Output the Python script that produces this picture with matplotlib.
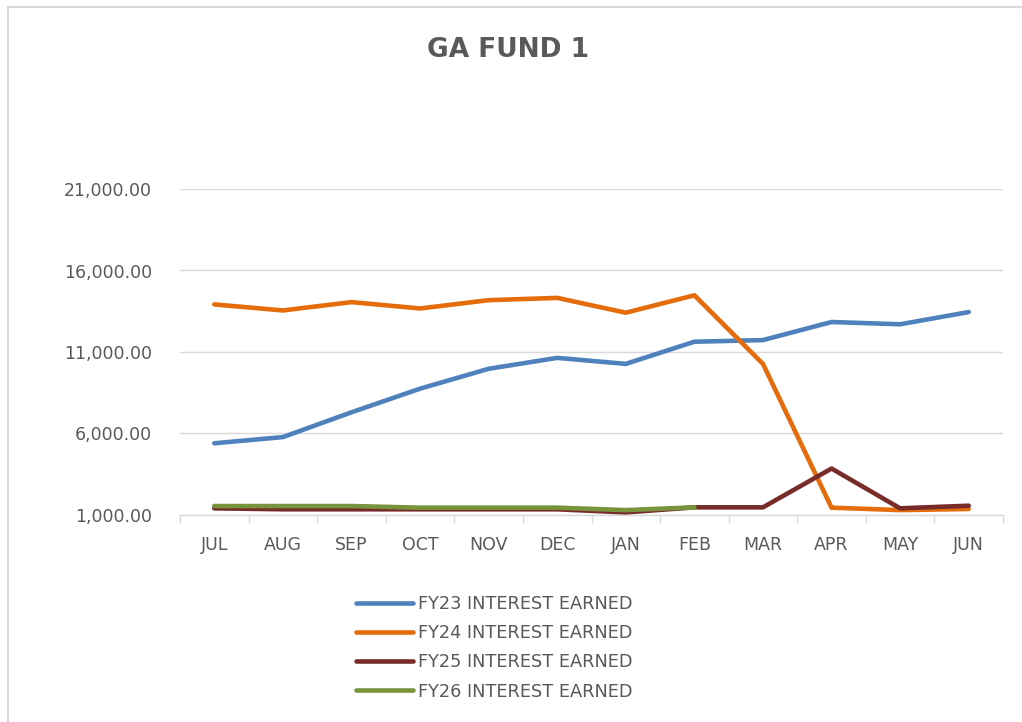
import matplotlib
matplotlib.use("Agg")
import matplotlib.pyplot as plt
from matplotlib.lines import Line2D

months = ["JUL", "AUG", "SEP", "OCT", "NOV", "DEC", "JAN", "FEB", "MAR", "APR", "MAY", "JUN"]

fy23 = [5400, 5780, 7300, 8750, 9970, 10640, 10270, 11630, 11730, 12840, 12700, 13450]
fy24 = [13920, 13550, 14060, 13670, 14180, 14320, 13410, 14480, 10270, 1450, 1300, 1370]
fy25 = [1410, 1350, 1350, 1350, 1350, 1350, 1160, 1470, 1470, 3850, 1410, 1570]
fy26 = [1550, 1550, 1550, 1450, 1450, 1450, 1300, 1470]  # stops at FEB

series = [
    ("FY23 INTEREST EARNED", fy23, "#4F81BD"),
    ("FY24 INTEREST EARNED", fy24, "#E46C0A"),
    ("FY25 INTEREST EARNED", fy25, "#772C2A"),
    ("FY26 INTEREST EARNED", fy26, "#77933C"),
]
yticks = [1000, 6000, 11000, 16000, 21000]

txt = "#595959"
grid = "#D9D9D9"
plt.rcParams["font.family"] = ["DejaVu Sans"]

fig = plt.figure(figsize=(10.22, 7.22), dpi=100)
ax = fig.add_axes([180 / 1022, 1 - 515 / 722, 823 / 1022, 326 / 722])

for name, vals, col in series:
    ax.plot(range(len(vals)), vals, color=col, lw=3.3, label=name,
            solid_capstyle="round", solid_joinstyle="round")

ax.set_xlim(-0.5, len(months) - 0.5)
ax.set_ylim(1000, 21000)
ax.set_yticks(yticks)
ax.set_yticklabels([f"{v:,.2f}" for v in yticks])
ax.set_xticks(range(len(months)))
ax.set_xticklabels(months)
ax.set_xticks([i - 0.5 for i in range(len(months) + 1)], minor=True)

ax.tick_params(axis="both", which="major", length=0, labelsize=12.5, colors=txt)
ax.tick_params(axis="x", which="major", pad=15)
ax.tick_params(axis="y", which="major", pad=20)
ax.tick_params(axis="x", which="minor", length=6, width=1, color=grid)

ax.grid(axis="y", color=grid, lw=1)
ax.set_axisbelow(True)
for s in ["top", "right", "left"]:
    ax.spines[s].set_visible(False)
ax.spines["bottom"].set_color(grid)
ax.spines["bottom"].set_linewidth(1)

fig.text(508 / 1022, 1 - 50 / 722, "GA FUND 1", ha="center", va="center",
         fontsize=19, fontweight="bold", color=txt)

fig.legend(loc="upper left", bbox_to_anchor=(340 / 1022, 1 - 579 / 722),
           frameon=False, fontsize=12.8, handlelength=3.2, handletextpad=0.3,
           labelspacing=0.63, labelcolor=txt)

# light chart border (left and top edges only visible)
fig.add_artist(Line2D([8 / 1022, 8 / 1022], [0, 1 - 7 / 722], transform=fig.transFigure, color=grid, lw=1.5))
fig.add_artist(Line2D([8 / 1022, 1], [1 - 7 / 722, 1 - 7 / 722], transform=fig.transFigure, color=grid, lw=1.5))

fig.savefig("out.png", dpi=100)
